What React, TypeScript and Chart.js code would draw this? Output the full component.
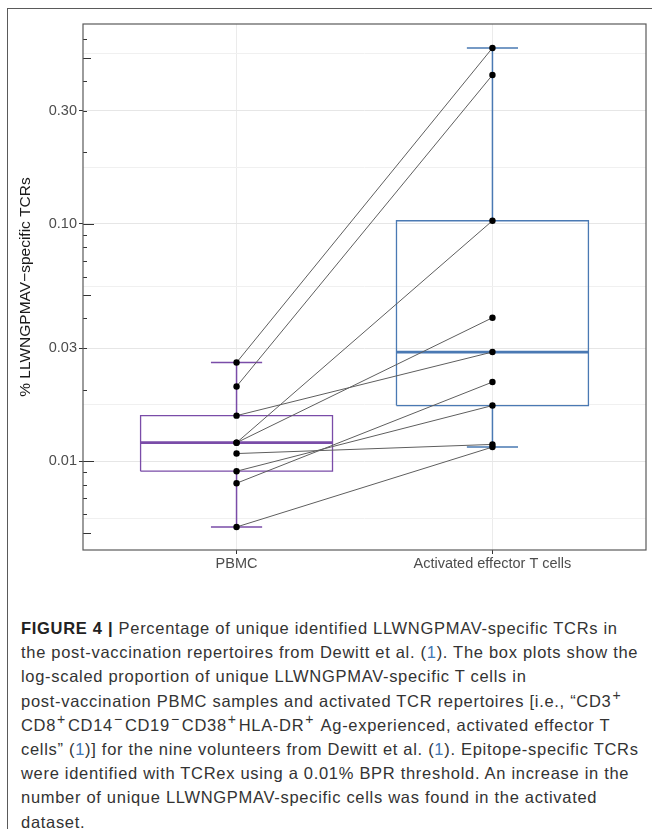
import React, { useEffect, useRef } from "react";
import { Chart, registerables } from "chart.js";

Chart.register(...registerables);

// ---------- data ----------
const CATEGORIES = ["PBMC", "Activated effector T cells"];
const CATEGORY_POS = [1, 2];
// nine volunteers, paired by index
const PBMC = [0.0261, 0.0207, 0.012, 0.012, 0.0156, 0.0081, 0.0091, 0.0108, 0.0053];
const ACTIVATED = [0.551, 0.424, 0.1032, 0.0403, 0.0289, 0.0216, 0.0172, 0.0118, 0.0115];
const Y_MAJOR = [0.01, 0.03, 0.1, 0.3];
const Y_LABELS = ["0.01", "0.03", "0.10", "0.30"];
const Y_MIN = 0.00424;
const Y_MAX = 0.695;
const X_MIN = 0.4;
const X_MAX = 2.6;
const LOG_DECADES = [0.001, 0.01, 0.1, 1];
const LOG_MULTS = [1, 2, 3, 4, 5, 6, 7, 8, 9];

// ---------- styles ----------
const GROUP_COLORS = ["#7a4ca8", "#4a79b3"];
const BOX_HALF = 0.375;
const CAP_HALF = 0.1;
const FONT = "'Liberation Sans', Arial, Helvetica, sans-serif";

// minor breaks (ggplot style: midpoints in transformed space, extended one step)
function minorBreaks(major: number[]) {
  const l = major.map((v) => Math.log10(v));
  const d = l[1] - l[0];
  const ext = [l[0] - d, ...l, l[l.length - 1] + d];
  const out: number[] = [];
  for (let i = 0; i < ext.length - 1; i++) out.push(Math.pow(10, (ext[i] + ext[i + 1]) / 2));
  return out;
}
const Y_MINOR = minorBreaks(Y_MAJOR);
const Y_GRID = [...Y_MAJOR, ...Y_MINOR].sort((a, b) => a - b);

function isMajor(v: number) {
  return Y_MAJOR.some((m) => Math.abs(m - v) / m < 1e-6);
}

function quant(sorted: number[], p: number) {
  const h = (sorted.length - 1) * p;
  const lo = Math.floor(h);
  const hi = Math.min(lo + 1, sorted.length - 1);
  return sorted[lo] + (h - lo) * (sorted[hi] - sorted[lo]);
}

function boxStats(values: number[]) {
  const logs = values.map((v) => Math.log10(v)).sort((a, b) => a - b);
  const q1 = quant(logs, 0.25);
  const med = quant(logs, 0.5);
  const q3 = quant(logs, 0.75);
  const iqr = q3 - q1;
  const lo = Math.min(...logs.filter((v) => v >= q1 - 1.5 * iqr));
  const hi = Math.max(...logs.filter((v) => v <= q3 + 1.5 * iqr));
  const p = (x: number) => Math.pow(10, x);
  return { q1: p(q1), med: p(med), q3: p(q3), lo: p(lo), hi: p(hi) };
}

const panelPlugin = {
  id: "panelDecor",
  afterDraw(chart: any) {
    const { ctx, chartArea } = chart;
    const { left, top, right, bottom } = chartArea;
    const y = chart.scales.y;
    ctx.save();
    ctx.strokeStyle = "#333333";
    ctx.lineWidth = 1;
    ctx.beginPath();
    for (const d of LOG_DECADES) {
      for (const k of LOG_MULTS) {
        const v = k * d;
        if (v < Y_MIN || v > Y_MAX) continue;
        const py = Math.round(y.getPixelForValue(v)) + 0.5;
        const len = k === 1 ? 11 : k === 5 ? 8 : 4;
        ctx.moveTo(left, py);
        ctx.lineTo(left + len, py);
      }
    }
    ctx.stroke();
    ctx.strokeStyle = "#5a5a5a";
    ctx.lineWidth = 1.2;
    ctx.strokeRect(left, top, right - left, bottom - top);
    ctx.restore();
  },
};

function ChartView() {
  const ref = useRef<HTMLCanvasElement | null>(null);
  useEffect(() => {
    if (!ref.current) return;
    const groups = [PBMC, ACTIVATED];
    const stats = groups.map(boxStats);
    const datasets: any[] = [];

    stats.forEach((s, i) => {
      const x = CATEGORY_POS[i];
      const c = GROUP_COLORS[i];
      datasets.push({
        data: [
          { x: x - BOX_HALF, y: s.q1 },
          { x: x + BOX_HALF, y: s.q1 },
          { x: x + BOX_HALF, y: s.q3 },
          { x: x - BOX_HALF, y: s.q3 },
          { x: x - BOX_HALF, y: s.q1 },
        ],
        showLine: true,
        borderColor: c,
        borderWidth: 1.3,
        pointRadius: 0,
        borderJoinStyle: "miter",
        order: 6,
      });
      datasets.push({
        data: [
          { x: x - BOX_HALF, y: s.med },
          { x: x + BOX_HALF, y: s.med },
        ],
        showLine: true,
        borderColor: c,
        borderWidth: 2.8,
        pointRadius: 0,
        borderCapStyle: "butt",
        order: 5,
      });
      datasets.push({
        data: [
          { x, y: s.q3 },
          { x, y: s.hi },
          { x, y: null },
          { x: x - CAP_HALF, y: s.hi },
          { x: x + CAP_HALF, y: s.hi },
          { x, y: null },
          { x, y: s.q1 },
          { x, y: s.lo },
          { x, y: null },
          { x: x - CAP_HALF, y: s.lo },
          { x: x + CAP_HALF, y: s.lo },
        ],
        showLine: true,
        spanGaps: false,
        borderColor: c,
        borderWidth: 1.5,
        pointRadius: 0,
        order: 4,
      });
    });

    const pairs: any[] = [];
    PBMC.forEach((v, i) => {
      pairs.push({ x: CATEGORY_POS[0], y: v });
      pairs.push({ x: CATEGORY_POS[1], y: ACTIVATED[i] });
      pairs.push({ x: 1.5, y: null });
    });
    datasets.push({
      data: pairs,
      showLine: true,
      spanGaps: false,
      borderColor: "#5e5e5e",
      borderWidth: 1,
      pointRadius: 0,
      order: 2,
    });

    const pts: any[] = [];
    groups.forEach((g, i) => g.forEach((v) => pts.push({ x: CATEGORY_POS[i], y: v })));
    datasets.push({
      data: pts,
      showLine: false,
      pointRadius: 3.2,
      pointBackgroundColor: "#000000",
      pointBorderWidth: 0,
      order: 1,
    });

    const chart = new Chart(ref.current, {
      type: "scatter",
      data: { datasets },
      plugins: [panelPlugin],
      options: {
        animation: false,
        responsive: false,
        events: [],
        layout: { padding: { left: 0, top: 14, right: 4, bottom: 0 } },
        plugins: { legend: { display: false }, tooltip: { enabled: false } },
        scales: {
          x: {
            type: "linear",
            min: X_MIN,
            max: X_MAX,
            afterBuildTicks: (s: any) => {
              s.ticks = CATEGORY_POS.map((v) => ({ value: v }));
            },
            afterFit: (s: any) => {
              s.height = 30;
            },
            ticks: {
              autoSkip: false,
              maxRotation: 0,
              padding: 1,
              color: "#4d4d4d",
              font: { family: FONT, size: 14.5 },
              callback: (v: any) => {
                const i = CATEGORY_POS.indexOf(Number(v));
                return i >= 0 ? CATEGORIES[i] : "";
              },
            },
            grid: { color: "#ebebeb", lineWidth: 1, tickLength: 4, tickColor: "#333333" },
            border: { display: false },
          },
          y: {
            type: "logarithmic",
            min: Y_MIN,
            max: Y_MAX,
            afterBuildTicks: (s: any) => {
              s.ticks = Y_GRID.map((v) => ({ value: v }));
            },
            afterFit: (s: any) => {
              s.width = 73;
            },
            ticks: {
              autoSkip: false,
              padding: 2,
              color: "#4d4d4d",
              font: { family: FONT, size: 14.5 },
              callback: (v: any) => {
                const i = Y_MAJOR.findIndex((m) => Math.abs(m - Number(v)) / m < 1e-6);
                return i >= 0 ? Y_LABELS[i] : "";
              },
            },
            grid: {
              color: (c: any) => (c.tick && isMajor(c.tick.value) ? "#e6e6e6" : "#f0f0f0"),
              lineWidth: 1,
              tickLength: 4,
              tickColor: (c: any) => (c.tick && isMajor(c.tick.value) ? "#333333" : "rgba(0,0,0,0)"),
            },
            border: { display: false },
            title: {
              display: true,
              text: "% LLWNGPMAV\u2212specific TCRs",
              color: "#1a1a1a",
              font: { family: FONT, size: 15.5 },
              padding: { top: 6, bottom: 0 },
            },
          },
        },
      },
    } as any);
    return () => chart.destroy();
  }, []);
  return (
    <canvas
      ref={ref}
      width={640}
      height={570}
      style={{ position: "absolute", left: 10, top: 10, width: 640, height: 570 }}
    />
  );
}

const REF = ({ n }: { n: string }) => <span style={{ color: "#3f78b5" }}>{n}</span>;
const SUP = ({ c }: { c: string }) => (
  <sup style={{ fontSize: "0.85em", lineHeight: 0, verticalAlign: "0.45em", margin: "0 2px 0 1px" }}>{c}</sup>
);

export default function App() {
  const lineStyle: React.CSSProperties = { whiteSpace: "nowrap", height: 24.2, lineHeight: "24.2px" };
  return (
    <div
      style={{
        position: "absolute",
        left: 0,
        top: 0,
        width: 652,
        height: 829,
        overflow: "hidden",
        background: "#ffffff",
      }}
    >
      <div
        style={{
          position: "absolute",
          left: 7,
          top: 8,
          width: 645,
          height: 821,
          borderLeft: "1px solid #5a5a5a",
          borderTop: "1px solid #5a5a5a",
          boxSizing: "border-box",
        }}
      />
      <ChartView />
      <div
        style={{
          position: "absolute",
          left: 21,
          top: 616,
          fontFamily: FONT,
          fontSize: 16.5,
          letterSpacing: "0.7px",
          color: "#333333",
        }}
      >
        <div style={lineStyle}>
          <b style={{ color: "#222" }}>FIGURE 4 |</b> Percentage of unique identified LLWNGPMAV-specific TCRs in
        </div>
        <div style={lineStyle}>
          the post-vaccination repertoires from Dewitt et al. (<REF n="1" />). The box plots show the
        </div>
        <div style={lineStyle}>log-scaled proportion of unique LLWNGPMAV-specific T cells in</div>
        <div style={lineStyle}>
          post-vaccination PBMC samples and activated TCR repertoires [i.e., “CD3<SUP c="+" />
        </div>
        <div style={lineStyle}>
          CD8<SUP c="+" />CD14<SUP c="−" />CD19<SUP c="−" />CD38<SUP c="+" />HLA-DR<SUP c="+" /> Ag-experienced, activated
          effector T
        </div>
        <div style={lineStyle}>
          cells” (<REF n="1" />)] for the nine volunteers from Dewitt et al. (<REF n="1" />). Epitope-specific TCRs
        </div>
        <div style={lineStyle}>were identified with TCRex using a 0.01% BPR threshold. An increase in the</div>
        <div style={lineStyle}>number of unique LLWNGPMAV-specific cells was found in the activated</div>
        <div style={lineStyle}>dataset.</div>
      </div>
    </div>
  );
}
